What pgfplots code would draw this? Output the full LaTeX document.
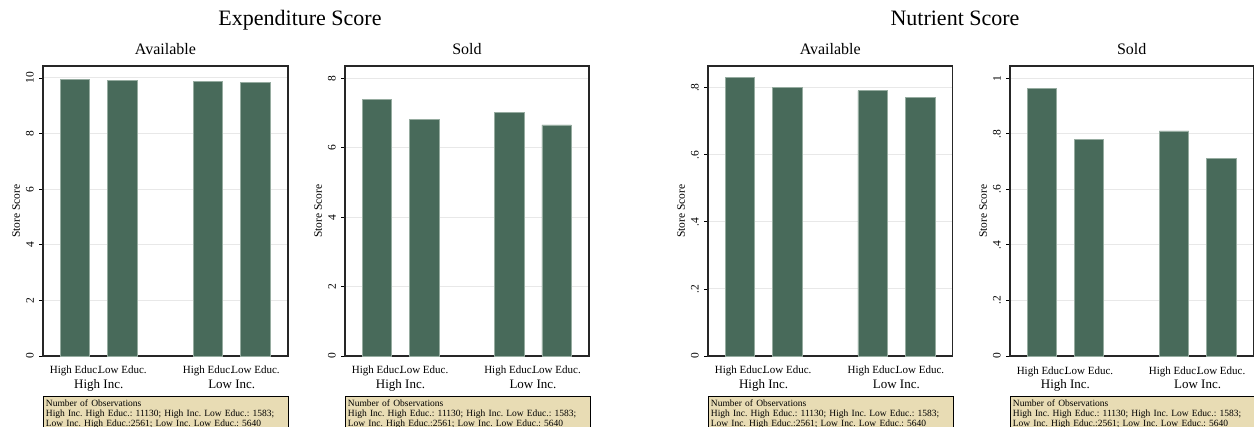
\documentclass[border=0pt]{standalone}
\usepackage{pgfplots}
\pgfplotsset{compat=1.18}
\usepackage{fontspec}
\setmainfont{Liberation Serif}
\frenchspacing
\definecolor{barfill}{RGB}{72,106,90}
\definecolor{baredge}{RGB}{150,172,160}
\definecolor{notebg}{RGB}{232,220,180}
\definecolor{gridc}{RGB}{232,232,232}
\pgfplotsset{
  panel/.style={
    scale only axis, width=245pt, height=290pt,
    anchor=south west,
    ybar, bar width=29.5pt, bar shift=0pt,
    xmin=-0.674, xmax=4.484, ymin=0,
    xtick={0,1,2.8,3.8},
    xticklabels={High Educ.,Low Educ.,High Educ.,Low Educ.},
    x tick style={draw=none},
    xticklabel style={anchor=base, yshift=-14pt, font=\fontsize{11}{13}\selectfont},
    ytick pos=left, tick align=outside, major tick length=4pt,
    y tick style={black, line width=0.8pt},
    yticklabel style={rotate=90, anchor=south, inner sep=0pt, font=\fontsize{11.5}{13}\selectfont},
    yticklabel shift=5pt,
    ymajorgrids, grid style={gridc, line width=1pt},
    axis line style={black!85, line width=1.1pt},
    ylabel={Store Score},
    ylabel style={at={(axis description cs:-0.11,0.5)}, anchor=center, font=\fontsize{11.5}{13}\selectfont},
    title style={at={(0.5,1)}, anchor=base, yshift=5.3pt, font=\fontsize{16}{18}\selectfont},
    clip=false,
    /pgf/number format/assume math mode=true,
  },
  barsty/.style={fill=barfill, draw=baredge, line width=0.6pt},
}
\newcommand{\panelextras}{%
  \node[anchor=base, font=\fontsize{13}{15}\selectfont, yshift=-33pt] at (axis cs:0.5,0) {High Inc.};
  \node[anchor=base, font=\fontsize{13}{15}\selectfont, yshift=-33pt] at (axis cs:3.3,0) {Low Inc.};
  \node[anchor=north west, draw=black, line width=0.8pt, fill=notebg, inner xsep=2.5pt, inner ysep=2pt,
        text width=240pt, minimum height=36pt, align=left, font=\fontsize{9.5}{9.7}\selectfont,
        yshift=-39.7pt] at (axis description cs:0,0)
        {Number of Observations\\High Inc. High Educ.: 11130; High Inc. Low Educ.: 1583;\\Low Inc. High Educ.:2561; Low Inc. Low Educ.: 5640};
}
\begin{document}
\begin{tikzpicture}
\useasboundingbox (0pt,0pt) rectangle (1254pt,-427pt);
\node[anchor=base, font=\fontsize{22}{24}\selectfont] at (300pt,-26pt) {Expenditure Score};
\node[anchor=base, font=\fontsize{22}{24}\selectfont] at (955pt,-26pt) {Nutrient Score};

\begin{axis}[panel, at={(43pt,-356pt)}, title={Available}, ymax=10.43,
  ytick={0,2,4,6,8,10}, yticklabels={0,2,4,6,8,10}]
\addplot[barsty] coordinates {(0,9.95) (1,9.92) (2.8,9.89) (3.8,9.85)};
\panelextras
\end{axis}

\begin{axis}[panel, at={(345pt,-356pt)}, width=244pt, title={Sold}, ymax=8.36,
  ytick={0,2,4,6,8}, yticklabels={0,2,4,6,8}]
\addplot[barsty] coordinates {(0,7.40) (1,6.82) (2.8,7.02) (3.8,6.66)};
\panelextras
\end{axis}

\begin{axis}[panel, at={(708pt,-356pt)}, width=244.5pt, title={Available}, ymax=0.8645,
  ytick={0,0.2,0.4,0.6,0.8}, yticklabels={0,.2,.4,.6,.8}]
\addplot[barsty] coordinates {(0,0.830) (1,0.801) (2.8,0.791) (3.8,0.770)};
\panelextras
\end{axis}

\begin{axis}[panel, at={(1010pt,-356pt)}, width=243.5pt, title={Sold}, ymax=1.044,
  ytick={0,0.2,0.4,0.6,0.8,1}, yticklabels={0,.2,.4,.6,.8,1}]
\addplot[barsty] coordinates {(0,0.964) (1,0.780) (2.8,0.810) (3.8,0.712)};
\panelextras
\end{axis}
\end{tikzpicture}
\end{document}
